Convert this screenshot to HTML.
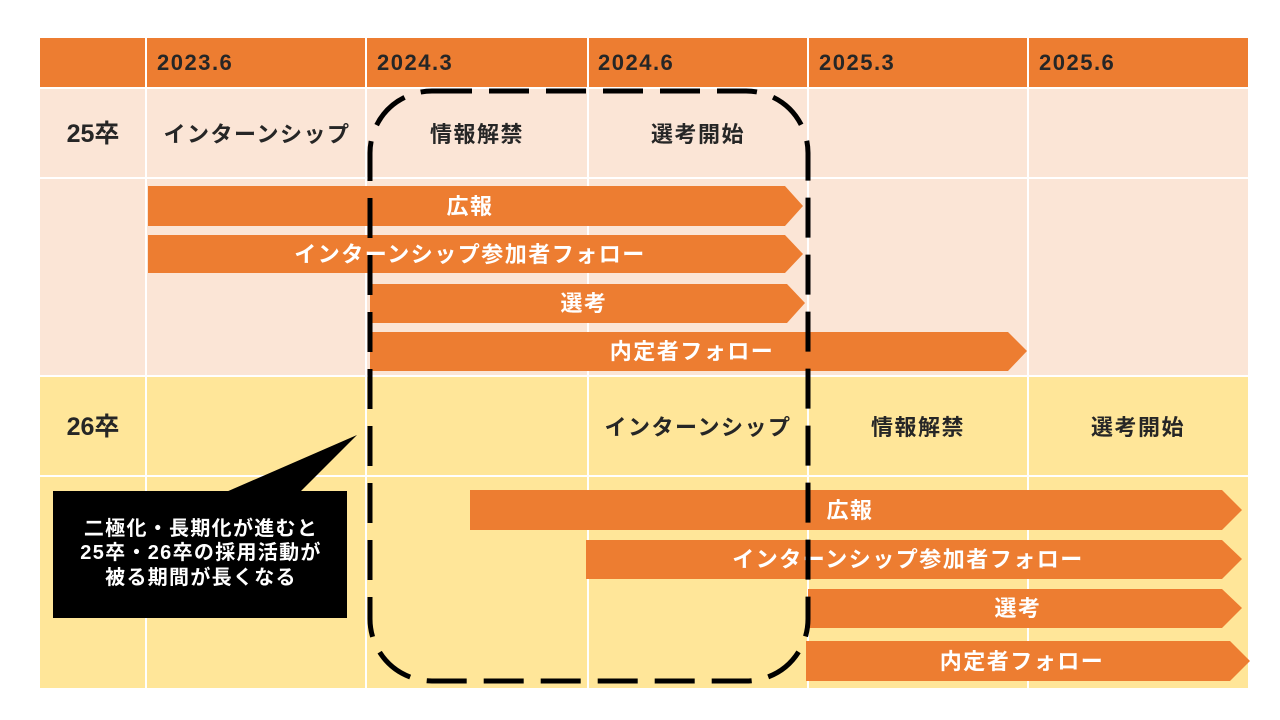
<!DOCTYPE html>
<html><head><meta charset="utf-8"><style>
html,body{margin:0;padding:0;background:#fff;}
svg{display:block;font-family:"Liberation Sans","Noto Sans CJK JP",sans-serif;}
</style></head><body>
<svg width="1280" height="720" viewBox="0 0 1280 720" xmlns="http://www.w3.org/2000/svg">
<rect width="1280" height="720" fill="#fff"/>
<rect x="40" y="38" width="1208" height="50" fill="#ED7D31"/>
<rect x="40" y="88" width="1208" height="288" fill="#FBE5D6"/>
<rect x="40" y="376" width="1208" height="312" fill="#FFE699"/>
<g stroke="#fff" stroke-width="2">
<line x1="146" y1="38" x2="146" y2="688"/>
<line x1="366" y1="38" x2="366" y2="688"/>
<line x1="588" y1="38" x2="588" y2="688"/>
<line x1="808" y1="38" x2="808" y2="688"/>
<line x1="1028" y1="38" x2="1028" y2="688"/>
<line x1="40" y1="88" x2="1248" y2="88"/>
<line x1="40" y1="178" x2="1248" y2="178"/>
<line x1="40" y1="376" x2="1248" y2="376"/>
<line x1="40" y1="476" x2="1248" y2="476"/>
</g>
<g font-size="22" font-weight="bold" fill="#262626" letter-spacing="1.5">
<text x="157" y="70">2023.6</text>
<text x="377" y="70">2024.3</text>
<text x="598" y="70">2024.6</text>
<text x="819" y="70">2025.3</text>
<text x="1039" y="70">2025.6</text>
</g>
<g font-size="22" font-weight="bold" fill="#262626" text-anchor="middle" letter-spacing="1.5">
<text x="93" y="142" font-size="25" letter-spacing="0">25卒</text>
<text x="257" y="142">インターンシップ</text>
<text x="477" y="142">情報解禁</text>
<text x="698" y="142">選考開始</text>
<text x="93" y="435" font-size="25" letter-spacing="0">26卒</text>
<text x="698" y="435">インターンシップ</text>
<text x="918" y="435">情報解禁</text>
<text x="1138" y="435">選考開始</text>
</g>
<g fill="#ED7D31">
<polygon points="148,186 785,186 803,206 785,226 148,226"/>
<polygon points="148,235 785,235 803,254 785,273 148,273"/>
<polygon points="370,284 787,284 805,303 787,323 370,323"/>
<polygon points="370,332 1008,332 1027,351 1008,371 370,371"/>
<polygon points="470,490 1222,490 1242,510 1222,530 470,530"/>
<polygon points="586,540 1222,540 1242,559 1222,579 586,579"/>
<polygon points="808,589 1222,589 1242,608 1222,628 808,628"/>
<polygon points="806,641 1230,641 1250,661 1230,681 806,681"/>
</g>
<g font-size="22" font-weight="bold" fill="#fff" text-anchor="middle" letter-spacing="1.5">
<text x="470" y="214">広報</text>
<text x="470" y="262">インターンシップ参加者フォロー</text>
<text x="584" y="311">選考</text>
<text x="692" y="359">内定者フォロー</text>
<text x="850" y="518">広報</text>
<text x="908" y="567">インターンシップ参加者フォロー</text>
<text x="1018" y="616">選考</text>
<text x="1022" y="669">内定者フォロー</text>
</g>
<rect x="370" y="91" width="438" height="590" rx="62" ry="62" fill="none" stroke="#000" stroke-width="5" stroke-dasharray="40 17"/>
<polygon points="226,492 357,435 300,492" fill="#000"/>
<rect x="53" y="491" width="294" height="127" fill="#000"/>
<g font-size="20" font-weight="bold" fill="#fff" text-anchor="middle" letter-spacing="1.3">
<text x="201" y="535">二極化・長期化が進むと</text>
<text x="201" y="559">25卒・26卒の採用活動が</text>
<text x="201" y="584">被る期間が長くなる</text>
</g>
</svg>
</body></html>
